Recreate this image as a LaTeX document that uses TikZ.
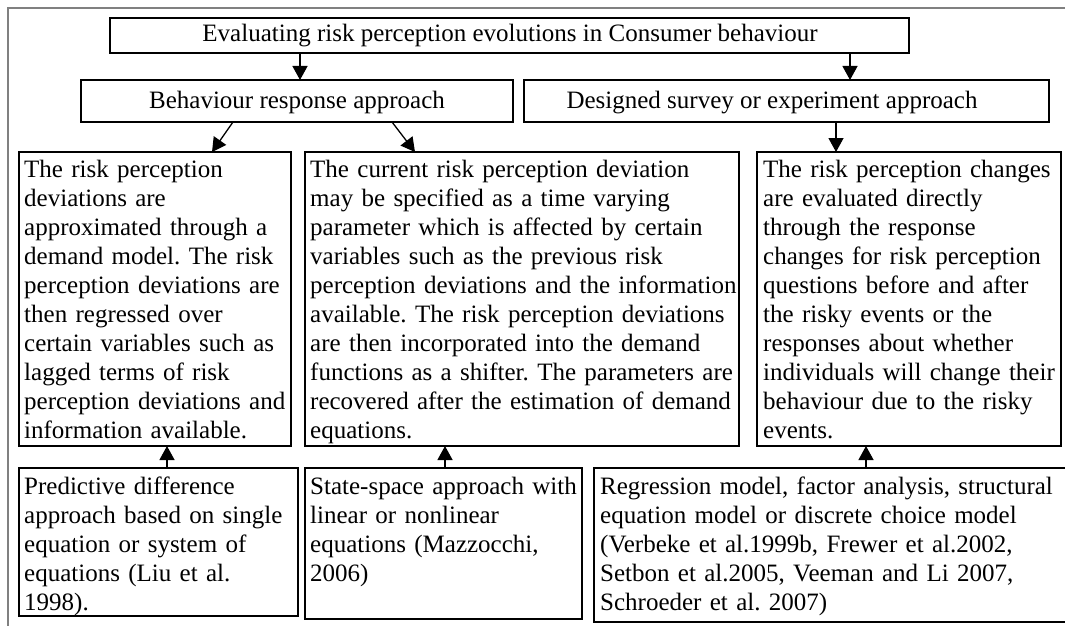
\documentclass[tikz,border=0pt]{standalone}
\usepackage{fontspec}
\setmainfont{Liberation Serif}
\usetikzlibrary{arrows.meta,calc}
\frenchspacing

\begin{document}
\begin{tikzpicture}[x=1pt,y=-1pt,
  box/.style={draw, line width=1.6pt, rectangle, inner sep=0pt, outer sep=0pt, anchor=north west},
  body/.style={anchor=north west, inner sep=0pt, align=left, font=\fontsize{25}{29}\selectfont\frenchspacing},
  head/.style={anchor=base, inner sep=0pt, font=\fontsize{25}{29}\selectfont},
  arr/.style={line width=1.3pt, -{Triangle[length=14pt,width=15pt]}},
  frame/.style={draw=gray, line width=2pt},
]
\useasboundingbox (0,0) rectangle (1065,626);
\clip (0,0) rectangle (1065,626);

% surrounding frame
\draw[frame] (8,640) -- (8,8) -- (1080,8);

% headings
\node[box, minimum width=799pt, minimum height=35pt] (top) at (110,18) {};
\node[head] (toptxt) at (510,42) {Evaluating risk perception evolutions in Consumer behaviour};
\node[box, minimum width=432pt, minimum height=42pt] (beh) at (81,80) {};
\node[head] (behtxt) at (297,108) {Behaviour response approach};
\node[box, minimum width=525pt, minimum height=42pt] (sur) at (524,80) {};
\node[head] (surtxt) at (772,108) {Designed survey or experiment approach};

% descriptions
\node[box, minimum width=272pt, minimum height=294pt] (dev) at (19,152) {};
\node[body, text width=265pt] (devtxt) at ($(dev.north west)+(5,4.7)$) {\strut The risk perception\\
deviations are\\
approximated through a\\
demand model. The risk\\
perception deviations are\\
then regressed over\\
certain variables such as\\
lagged terms of risk\\
perception deviations and\\
information available.};

\node[box, minimum width=434pt, minimum height=294pt] (tvp) at (305,152) {};
\node[body, text width=428pt] (tvptxt) at ($(tvp.north west)+(5,4.7)$) {\strut The current risk perception deviation\\
may be specified as a time varying\\
parameter which is affected by certain\\
variables such as the previous risk\\
perception deviations and the information\\
available. The risk perception deviations\\
are then incorporated into the demand\\
functions as a shifter. The parameters are\\
recovered after the estimation of demand\\
equations.};

\node[box, minimum width=304pt, minimum height=294pt] (dir) at (757,152) {};
\node[body, text width=298pt] (dirtxt) at ($(dir.north west)+(6,4.7)$) {\strut The risk perception changes\\
are evaluated directly\\
through the response\\
changes for risk perception\\
questions before and after\\
the risky events or the\\
responses about whether\\
individuals will change their\\
behaviour due to the risky\\
events.};

% methods
\node[box, minimum width=279pt, minimum height=148pt] (pred) at (19,468) {};
\node[body, text width=272pt] (predtxt) at ($(pred.north west)+(5,5.7)$) {\strut Predictive difference\\
approach based on single\\
equation or system of\\
equations (Liu et al.\\
1998).};

\node[box, minimum width=277pt, minimum height=151pt] (ss) at (305,468) {};
\node[body, text width=272pt] (sstxt) at ($(ss.north west)+(5,5.7)$) {\strut State-space approach with\\
linear or nonlinear\\
equations (Mazzocchi,\\
2006)};

\node[box, minimum width=490pt, minimum height=154pt] (reg) at (594,468) {};
\node[body, text width=480pt] (regtxt) at ($(reg.north west)+(6,5.7)$) {\strut Regression model, factor analysis, structural\\
equation model or discrete choice model\\
(Verbeke et al.1999b, Frewer et al.2002,\\
Setbon et al.2005, Veeman and Li 2007,\\
Schroeder et al. 2007)};

% connectors
\draw[arr] ($(top.south west)+(190,0)$) -- ($(beh.north west)+(219,0)$);
\draw[arr] ($(top.south west)+(740,0)$) -- ($(sur.north west)+(326,0)$);
\draw[arr] ($(beh.south west)+(152,0)$) -- ($(dev.north west)+(193,0)$);
\draw[arr] ($(beh.south west)+(311,0)$) -- ($(tvp.north west)+(110,0)$);
\draw[arr] ($(sur.south west)+(312,0)$) -- ($(dir.north west)+(79,0)$);
\draw[arr] ($(pred.north west)+(148,0)$) -- ($(dev.south west)+(148,0)$);
\draw[arr] ($(ss.north west)+(140,0)$) -- ($(tvp.south west)+(140,0)$);
\draw[arr] ($(reg.north west)+(272,0)$) -- ($(dir.south west)+(109,0)$);
\end{tikzpicture}
\end{document}
